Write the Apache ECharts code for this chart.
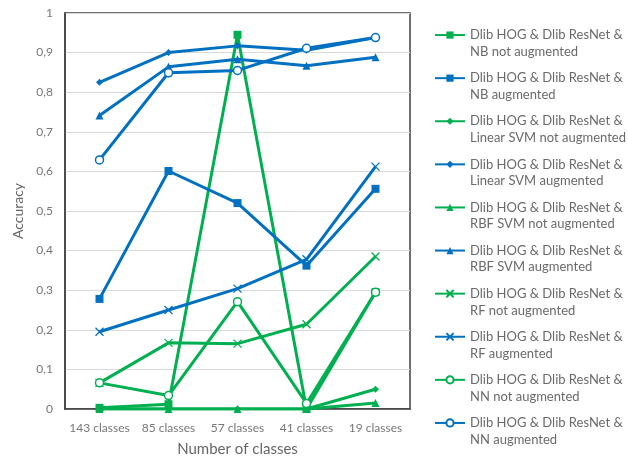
<!DOCTYPE html>
<html><head><meta charset="utf-8">
<script src="https://cdn.jsdelivr.net/npm/echarts@6/dist/echarts.min.js"></script>
<style>html,body{margin:0;padding:0;background:#fff}#c{width:628px;height:457px}</style>
</head><body><div id="c"></div>
<script>
var categories = ['143 classes', '85 classes', '57 classes', '41 classes', '19 classes'];
var nbNotAug = [0.003, 0.012, 0.945, 0.0, 0.295];
var nbAug = [0.278, 0.601, 0.520, 0.362, 0.556];
var linNotAug = [0.0, 0.0, 0.0, 0.0, 0.050];
var linAug = [0.825, 0.900, 0.917, 0.906, 0.938];
var rbfNotAug = [0.0, 0.0, 0.0, 0.0, 0.015];
var rbfAug = [0.741, 0.864, 0.883, 0.867, 0.888];
var rfNotAug = [0.066, 0.167, 0.165, 0.214, 0.385];
var rfAug = [0.195, 0.250, 0.304, 0.378, 0.612];
var nnNotAug = [0.066, 0.034, 0.271, 0.014, 0.295];
var nnAug = [0.629, 0.849, 0.855, 0.911, 0.938];
var names = [
  'Dlib HOG & Dlib ResNet &\nNB not augmented',
  'Dlib HOG & Dlib ResNet &\nNB augmented',
  'Dlib HOG & Dlib ResNet &\nLinear SVM not augmented',
  'Dlib HOG & Dlib ResNet &\nLinear SVM augmented',
  'Dlib HOG & Dlib ResNet &\nRBF SVM not augmented',
  'Dlib HOG & Dlib ResNet &\nRBF SVM augmented',
  'Dlib HOG & Dlib ResNet &\nRF not augmented',
  'Dlib HOG & Dlib ResNet &\nRF augmented',
  'Dlib HOG & Dlib ResNet &\nNN not augmented',
  'Dlib HOG & Dlib ResNet &\nNN augmented'
];
var yTicks = ['0','0,1','0,2','0,3','0,4','0,5','0,6','0,7','0,8','0,9','1'];

var GREEN = '#00B050', BLUE = '#0070C0';
var FONT = 'Lato';
var XPATH = 'path://M0,0L10,10M0,10L10,0';

function mk(name, data, color, symbol, size, hollow, cross) {
  var item = {color: hollow ? '#fff' : color, borderColor: color, borderWidth: hollow ? 1.5 : (cross ? 1.3 : 0)};
  if (cross) item.color = 'rgba(255,255,255,0)';
  return {
    name: name, type: 'line', data: data, symbol: symbol, symbolSize: size,
    showAllSymbol: true,
    lineStyle: {color: color, width: 3},
    itemStyle: item,
    emphasis: {disabled: true},
    animation: false
  };
}

var series = [
  mk(names[0], nbNotAug, GREEN, 'rect', 8),
  mk(names[1], nbAug, BLUE, 'rect', 8),
  mk(names[2], linNotAug, GREEN, 'diamond', 7),
  mk(names[3], linAug, BLUE, 'diamond', 7),
  mk(names[4], rbfNotAug, GREEN, 'triangle', 8),
  mk(names[5], rbfAug, BLUE, 'triangle', 8),
  mk(names[6], rfNotAug, GREEN, XPATH, 8, false, true),
  mk(names[7], rfAug, BLUE, XPATH, 8, false, true),
  mk(names[8], nnNotAug, GREEN, 'circle', 8, true),
  mk(names[9], nnAug, BLUE, 'circle', 8, true)
];

var LEG_TEXT = {fontFamily: FONT, fontSize: 13, color: '#6a6a6a', lineHeight: 16.7};

var chart = echarts.init(document.getElementById('c'));
chart.setOption({
  animation: false,
  textStyle: {fontFamily: FONT},
  grid: {left: 65, top: 13, right: 218, bottom: 48, show: true, borderColor: '#404040', borderWidth: 1.5,
    containLabel: false, outerBoundsMode: 'none'},
  legend: {
    orient: 'vertical', left: 434, top: 10, padding: 0,
    itemWidth: 30, itemHeight: 9, itemGap: -7,
    data: names,
    formatter: function (name) {
      var p = name.split('\n');
      return '{s| }\n{a|' + p[0] + '}\n{a|' + p[1] + '}';
    },
    textStyle: {fontFamily: FONT, fontSize: 13, color: '#6a6a6a', lineHeight: 16.7,
      rich: {s: LEG_TEXT, a: LEG_TEXT}}
  },
  xAxis: {
    type: 'category', data: categories, boundaryGap: true,
    name: 'Number of classes', nameLocation: 'middle', nameGap: 33,
    nameTextStyle: {fontFamily: FONT, fontSize: 15, color: '#666'},
    axisLine: {lineStyle: {color: '#404040', width: 1.5}},
    axisTick: {show: false},
    axisLabel: {fontFamily: FONT, fontSize: 12, color: '#777', margin: 13, interval: 0}
  },
  yAxis: {
    type: 'value', min: 0, max: 1, interval: 0.1,
    name: 'Accuracy', nameLocation: 'middle', nameGap: 40,
    nameTextStyle: {fontFamily: FONT, fontSize: 14, color: '#666'},
    axisLine: {show: true, lineStyle: {color: '#404040', width: 1.5}},
    axisTick: {show: false},
    splitLine: {lineStyle: {color: '#d9d9d9', width: 1}},
    axisLabel: {fontFamily: FONT, fontSize: 12, color: '#777', margin: 12,
      formatter: function (v) { return yTicks[Math.round(v * 10)]; }}
  },
  series: series
});
</script></body></html>
